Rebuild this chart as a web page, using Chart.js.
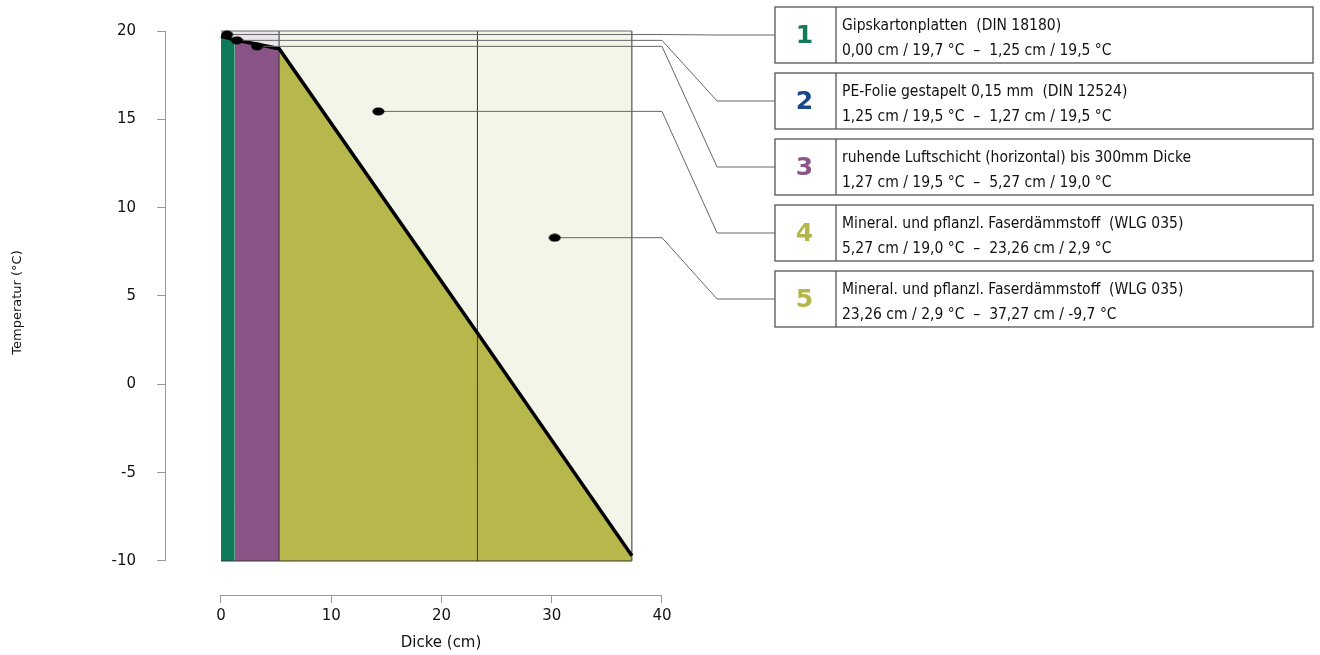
<!DOCTYPE html>
<html>
<head>
<meta charset="utf-8">
<script src="https://cdn.jsdelivr.net/npm/chart.js@4"></script>
<style>
  body { margin: 0; background: #fff; }
  #wrap { width: 1320px; height: 655px; }
</style>
</head>
<body>
<div id="wrap"><canvas id="graph1" width="1320" height="655"></canvas></div>
<script>
// Schichten der Wand
const layerNames = [
  'Gipskartonplatten  (DIN 18180)',
  'PE-Folie gestapelt 0,15 mm  (DIN 12524)',
  'ruhende Luftschicht (horizontal) bis 300mm Dicke',
  'Mineral. und pflanzl. Faserdämmstoff  (WLG 035)',
  'Mineral. und pflanzl. Faserdämmstoff  (WLG 035)'
];
const layerStart = [0, 1.25, 1.27, 5.27, 23.26];
const layerEnd   = [1.25, 1.27, 5.27, 23.26, 37.27];
const tempStart  = [19.7, 19.5, 19.5, 19.0, 2.9];
const tempEnd    = [19.5, 19.5, 19.0, 2.9, -9.7];
// Punkte fuer die Beschriftung
const labelX = [0.55, 1.45, 3.27, 14.27, 30.27];
const labelY = [19.8, 19.47, 19.13, 15.45, 8.3];
const xTicks = [0, 10, 20, 30, 40];
const yTicks = [-10, -5, 0, 5, 10, 15, 20];
const yTop = 20;
const yBottom = -10;

const layerColor = ['#0f7a5a', '#1b4b8c', '#8a5487', '#b7b84b', '#b7b84b'];
const layerTint  = ['#e3eee9', '#e3e8f1', '#ece5ec', '#f4f5e9', '#f4f5e9'];
const numColor   = ['#137a5b', '#18488a', '#8a5588', '#b5b64a', '#b5b64a'];

const textFont = '"DejaVu Sans Condensed", "DejaVu Sans", sans-serif';

function fmt(v, d) {
  return v.toFixed(d).replace('.', ',');
}

// kleiner Punkt (Ellipse)
const dot = document.createElement('canvas');
dot.width = 13; dot.height = 9;
const dctx = dot.getContext('2d');
dctx.fillStyle = '#000';
dctx.beginPath();
dctx.ellipse(6.5, 4.5, 6, 4, 0, 0, Math.PI * 2);
dctx.fill();

const datasets = [];

// Beschriftungspunkte
datasets.push({
  data: labelX.map((x, i) => ({ x: x, y: labelY[i] })),
  showLine: false,
  pointStyle: dot,
  pointRadius: 6,
  clip: false,
  order: 0
});

// Temperaturverlauf
const curve = [{ x: layerStart[0], y: tempStart[0] }];
layerEnd.forEach((x, i) => curve.push({ x: x, y: tempEnd[i] }));
datasets.push({
  data: curve,
  borderColor: '#000',
  borderWidth: 3.5,
  pointRadius: 0,
  order: 1
});

// Rahmenlinien
const borderLines = [
  [{ x: layerStart[0], y: yTop }, { x: layerEnd[4], y: yTop }],
  [{ x: layerStart[0], y: yBottom }, { x: layerEnd[4], y: yBottom }]
];
[2, 3, 4].forEach(i => {
  borderLines.push([{ x: layerEnd[i], y: yBottom }, { x: layerEnd[i], y: yTop }]);
});
borderLines.forEach((pts, k) => {
  datasets.push({
    data: pts,
    borderColor: k === 0 ? '#666' : '#333',
    borderWidth: 1,
    pointRadius: 0,
    order: 2
  });
});

// Flaechen unter und ueber der Kurve
layerStart.forEach((x0, i) => {
  datasets.push({
    data: [{ x: x0, y: tempStart[i] }, { x: layerEnd[i], y: tempEnd[i] }],
    fill: { value: yBottom },
    backgroundColor: layerColor[i],
    borderWidth: 0,
    pointRadius: 0,
    order: 3
  });
  datasets.push({
    data: [{ x: x0, y: yTop }, { x: layerEnd[i], y: yTop }],
    fill: { value: yBottom },
    backgroundColor: layerTint[i],
    borderWidth: 0,
    pointRadius: 0,
    order: 4
  });
});

const boxLeft = 775, boxRight = 1313, boxDivider = 836;
const boxTop = 7, boxStep = 66, boxH = 56;

const legendBoxes = {
  id: 'legendBoxes',
  beforeDatasetDraw(chart, args) {
    if (args.index !== 0) return;
    const ctx = chart.ctx;
    const xs = chart.scales.x, ys = chart.scales.y;
    ctx.save();
    ctx.strokeStyle = '#666';
    ctx.lineWidth = 1;
    labelX.forEach((x, i) => {
      const cy = boxTop + i * boxStep + boxH / 2;
      const py = ys.getPixelForValue(labelY[i]);
      ctx.beginPath();
      ctx.moveTo(xs.getPixelForValue(x), py);
      ctx.lineTo(xs.getPixelForValue(40), py);
      ctx.lineTo(xs.getPixelForValue(45), cy);
      ctx.lineTo(boxLeft, cy);
      ctx.stroke();
    });
    ctx.restore();
  },
  afterDraw(chart) {
    const ctx = chart.ctx;
    const xs = chart.scales.x, ys = chart.scales.y;
    const area = chart.chartArea;
    ctx.save();
    // Achsenlinien
    ctx.strokeStyle = '#999';
    ctx.lineWidth = 1;
    ctx.beginPath();
    ctx.moveTo(area.left + 0.5, ys.getPixelForValue(yTicks[0]));
    ctx.lineTo(area.left + 0.5, ys.getPixelForValue(yTicks[yTicks.length - 1]));
    ctx.moveTo(xs.getPixelForValue(xTicks[0]), area.bottom + 0.5);
    ctx.lineTo(xs.getPixelForValue(xTicks[xTicks.length - 1]), area.bottom + 0.5);
    ctx.stroke();

    // Kaesten
    layerNames.forEach((name, i) => {
      const top = boxTop + i * boxStep;
      ctx.fillStyle = '#fff';
      ctx.fillRect(boxLeft, top, boxRight - boxLeft, boxH);
      ctx.strokeStyle = '#555';
      ctx.lineWidth = 1.3;
      ctx.strokeRect(boxLeft, top, boxRight - boxLeft, boxH);
      ctx.beginPath();
      ctx.moveTo(boxDivider, top);
      ctx.lineTo(boxDivider, top + boxH);
      ctx.stroke();

      ctx.fillStyle = numColor[i];
      ctx.font = 'bold 25px "DejaVu Sans", sans-serif';
      ctx.textAlign = 'center';
      ctx.textBaseline = 'middle';
      ctx.fillText(String(i + 1), (boxLeft + boxDivider) / 2 - 1, top + boxH / 2 + 1);

      ctx.fillStyle = '#111';
      ctx.font = '15.5px ' + textFont;
      ctx.textAlign = 'left';
      ctx.textBaseline = 'alphabetic';
      ctx.fillText(name, boxDivider + 6, top + 23);
      const line2 = fmt(layerStart[i], 2) + ' cm / ' + fmt(tempStart[i], 1) + ' °C  \u2013  ' +
        fmt(layerEnd[i], 2) + ' cm / ' + fmt(tempEnd[i], 1) + ' °C';
      ctx.fillText(line2, boxDivider + 6, top + 48);
    });
    ctx.restore();
  }
};

const tickFont = { family: '"DejaVu Sans", sans-serif', size: 15 };

new Chart(document.getElementById('graph1'), {
  type: 'line',
  data: { datasets: datasets },
  options: {
    responsive: false,
    devicePixelRatio: 1,
    animation: false,
    layout: { padding: { left: 0, top: 10, right: 603, bottom: 0 } },
    plugins: { legend: { display: false }, tooltip: { enabled: false } },
    scales: {
      x: {
        type: 'linear',
        min: -5.079,
        max: 44.99,
        afterBuildTicks: s => { s.ticks = xTicks.map(v => ({ value: v })); },
        afterFit: s => { s.height = 60; s.paddingLeft = 0; s.paddingRight = 0; },
        grid: { drawOnChartArea: false, drawTicks: true, tickLength: 8, color: '#999' },
        border: { display: false },
        ticks: { font: tickFont, color: '#111', padding: 4, maxRotation: 0 },
        title: { display: true, text: 'Dicke (cm)', font: { family: '"DejaVu Sans", sans-serif', size: 15 }, color: '#111', padding: { top: 0, bottom: 3 } }
      },
      y: {
        type: 'linear',
        min: -11.925,
        max: 21.189,
        afterBuildTicks: s => { s.ticks = yTicks.map(v => ({ value: v })); },
        afterFit: s => { s.width = 165; s.paddingTop = 0; s.paddingBottom = 0; },
        grid: { drawOnChartArea: false, drawTicks: true, tickLength: 8, color: '#999' },
        border: { display: false },
        ticks: { font: tickFont, color: '#111', padding: 21 },
        title: { display: true, text: 'Temperatur (°C)', font: { family: '"DejaVu Sans", sans-serif', size: 13 }, color: '#111', padding: { top: 10, bottom: 0 } }
      }
    }
  },
  plugins: [legendBoxes]
});
</script>
</body>
</html>
